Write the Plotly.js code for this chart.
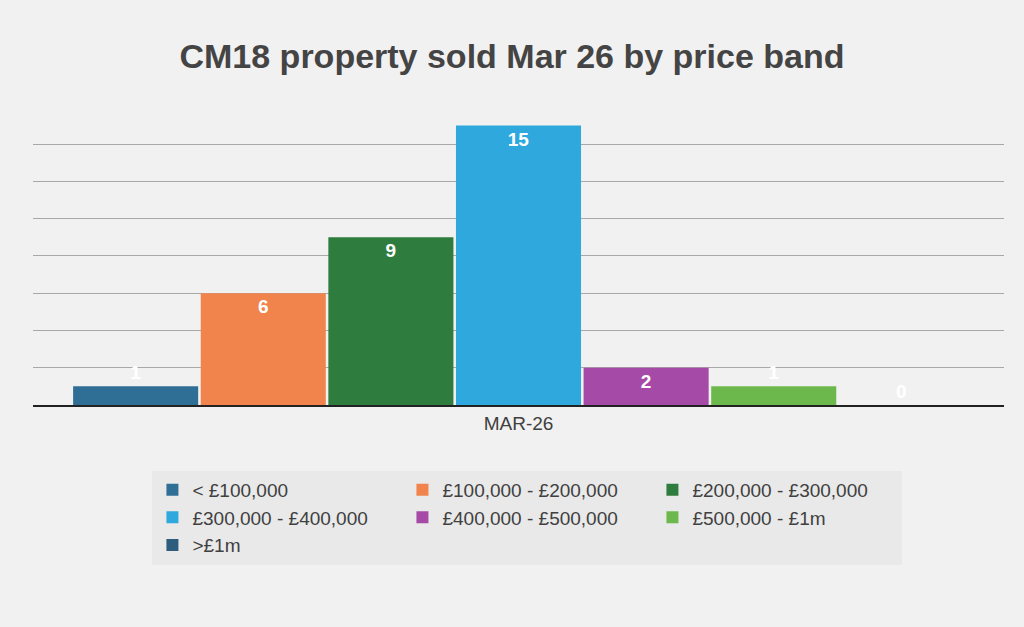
<html><head><script src="https://cdn.plot.ly/plotly-3.0.1.min.js"></script></head><body style="margin:0">
<div id="c" style="width:1024px;height:627px"></div>
<script>
const category = 'MAR-26';
const bands = ['< £100,000','£100,000 - £200,000','£200,000 - £300,000','£300,000 - £400,000','£400,000 - £500,000','£500,000 - £1m','>£1m'];
const counts = [1,6,9,15,2,1,0];
const colors = ['#2f6f96','#f0844c','#2f7d3e','#2fa9dd','#a54aa6','#6cb84c','#2d5c7c'];
const traces = bands.map((b,i)=>({
  type:'bar', name:b, x:[category], y:[counts[i]],
  marker:{color:colors[i]},
  text:['<b>'+counts[i]+'</b>'],
  textposition: counts[i]>=2 ? 'inside' : 'outside',
  insidetextanchor:'end',
  cliponaxis:false,
  textfont:{color:'#ffffff',size:19,family:'Liberation Sans'},
  outsidetextfont:{color:'#ffffff',size:19,family:'Liberation Sans'}
}));
Plotly.newPlot('c',traces,{
  width:1024,height:627,
  paper_bgcolor:'#f1f1f1',plot_bgcolor:'rgba(0,0,0,0)',
  margin:{l:33,r:20,t:106,b:222},
  bargap:0.08,bargroupgap:0.02,
  font:{family:'Liberation Sans',color:'#404040'},
  title:{text:'<b>CM18 property sold Mar 26 by price band</b>',x:0.5,y:0.93,font:{size:34,color:'#444444',family:'Liberation Sans'}},
  yaxis:{range:[0,16.05],tickvals:[2,4,6,8,10,12,14,16],showticklabels:false,gridcolor:'#a8a8a8',gridwidth:1,zeroline:false},
  xaxis:{showline:true,linecolor:'#222',linewidth:2,tickfont:{size:19,color:'#404040'},ticks:''},
  showlegend:true,
  legend:{orientation:'h',x:0.123,xanchor:'left',y:-0.22,yanchor:'top',bgcolor:'#e9e9e9',
    font:{size:19,color:'#404040'},entrywidth:205,tracegroupgap:0,itemwidth:30},
},{displayModeBar:false});
</script></body></html>
